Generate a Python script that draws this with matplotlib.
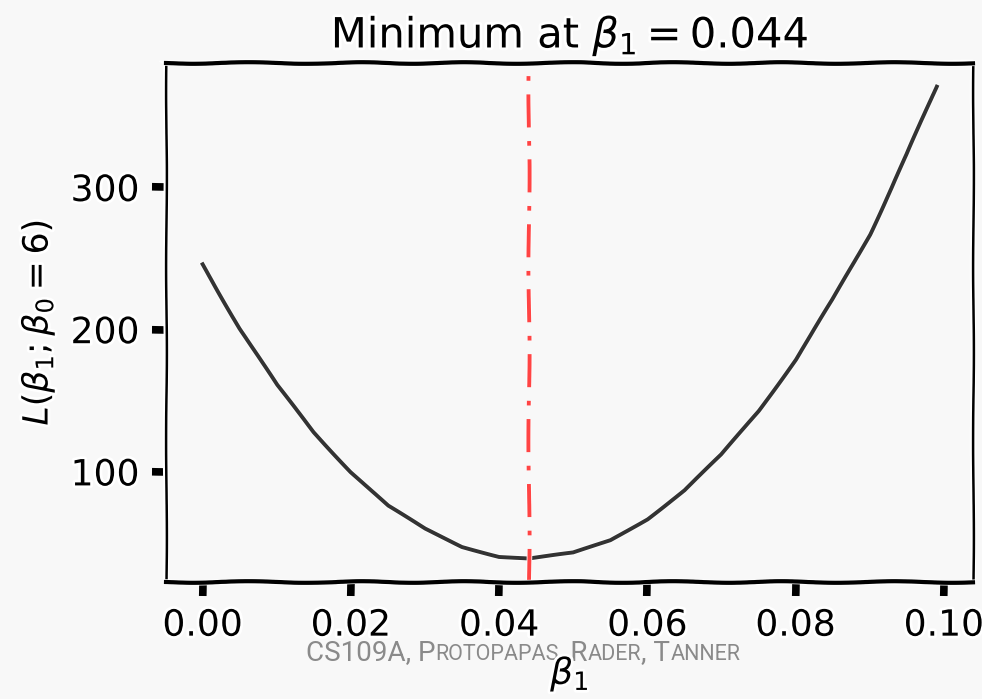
import numpy as np
import matplotlib
matplotlib.use("Agg")
import matplotlib.pyplot as plt

# loss curve
beta1 = [0.0, 0.005, 0.01, 0.015, 0.02, 0.025, 0.03, 0.035, 0.04, 0.044,
         0.05, 0.055, 0.06, 0.065, 0.07, 0.075, 0.08, 0.085, 0.09, 0.095, 0.099]
loss = [246, 201, 161, 128, 100, 76, 60, 47.5, 40.5, 39,
        43, 52, 67, 87, 112, 143, 179, 221, 267, 323, 371]
best_beta1 = 0.044
xticks = [0.0, 0.02, 0.04, 0.06, 0.08, 0.10]
xticklabels = ["0.00", "0.02", "0.04", "0.06", "0.08", "0.10"]
yticks = [100, 200, 300]

plt.xkcd(scale=0.6, length=200, randomness=2)
plt.rcParams['font.family'] = ['DejaVu Sans']
plt.rcParams['mathtext.fontset'] = 'dejavusans'

bg = '#f8f8f8'
fig = plt.figure(figsize=(9.82, 6.99), dpi=100, facecolor=bg)
ax = fig.add_axes([0.169, 0.167, 0.822, 0.743], facecolor=bg)

ax.plot(beta1, loss, color='#333333', lw=2.8)
ax.axvline(best_beta1, color='#ff4444', lw=2.8, linestyle=(0, (8.5, 3.5, 1.2, 3.5)))

ax.set_xticks(xticks)
ax.set_xticklabels(xticklabels)
ax.set_yticks(yticks)
ax.tick_params(labelsize=26, length=10, width=5.5, pad=9)
ax.set_title(r"Minimum at $\beta_1 = 0.044$", fontsize=30, pad=11)
ax.set_xlabel(r"$\beta_1$", fontsize=26, labelpad=9)
ax.set_ylabel(r"$L(\beta_1; \beta_0 = 6)$", fontsize=25, labelpad=10)
for s in ['top', 'bottom']:
    ax.spines[s].set_linewidth(3)
    ax.spines[s].set_sketch_params(scale=0.8, length=120, randomness=2)
for s in ['left', 'right']:
    ax.spines[s].set_linewidth(1.8)
    ax.spines[s].set_sketch_params(scale=0.4, length=200, randomness=2)

# small-caps footer
pieces = [("CS109A, P", 20), ("ROTOPAPAS", 15.5), (", R", 20), ("ADER", 15.5),
          (", T", 20), ("ANNER", 15.5)]
texts = [fig.text(0, 0.056, p, fontsize=sz, color='#8a8a8a', family='Roboto',
                  va='baseline', ha='left', zorder=-1, path_effects=[])
         for p, sz in pieces]
fig.canvas.draw()
r = fig.canvas.get_renderer()
widths = [t.get_window_extent(r).width / fig.bbox.width for t in texts]
x = 0.5325 - sum(widths) / 2
for t, w in zip(texts, widths):
    t.set_x(x)
    x += w

fig.savefig("out.png", dpi=100, facecolor=bg)
